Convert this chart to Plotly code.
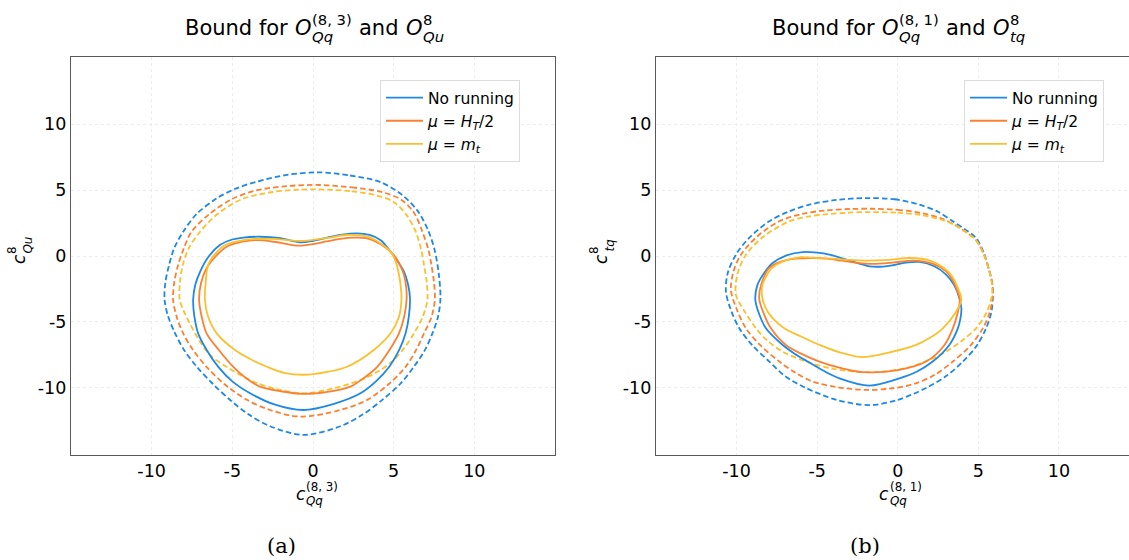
import plotly.graph_objects as go

W, H = 1129, 560

# ---------------- data (x, y) points along each closed contour ----------------
# Panel (a): c_Qq^(8,3) vs c_Qu^8
a_norun_dash = [(0.3, 6.34), (2.3, 6.1), (4.18, 5.6), (5.5, 4.65), (6.5, 3.4), (7.15, 1.9), (7.55, 0.4),
                (7.8, -1.4), (7.9, -3.2), (7.75, -4.6), (7.4, -5.86), (6.95, -7.1), (6.25, -8.4),
                (5.4, -9.7), (4.3, -10.9), (3.1, -12.0), (1.7, -12.9), (-0.6, -13.56), (-2.66, -12.9),
                (-4.0, -12.0), (-5.1, -10.95), (-6.2, -9.7), (-7.2, -8.4), (-8.0, -7.1), (-8.57, -5.8),
                (-9.0, -4.5), (-9.2, -3.3), (-9.15, -2.0), (-8.92, -0.68), (-8.6, 0.6), (-8.05, 1.84),
                (-7.2, 3.2), (-5.97, 4.37), (-4.8, 5.1), (-3.5, 5.63), (-1.6, 6.15)]
a_ht_dash = [(0.45, 5.38), (2.4, 5.2), (4.18, 4.87), (5.43, 4.3), (6.25, 3.3), (6.78, 1.84), (7.15, 0.5),
             (7.34, -0.68), (7.5, -2.0), (7.55, -3.33), (7.35, -4.6), (6.88, -5.86), (6.4, -7.1),
             (5.74, -8.4), (4.7, -9.7), (3.36, -10.9), (1.7, -11.67), (-0.8, -12.17), (-2.66, -11.67),
             (-4.1, -10.9), (-5.5, -9.7), (-6.6, -8.4), (-7.45, -7.1), (-8.05, -5.86), (-8.45, -4.6),
             (-8.67, -3.33), (-8.6, -2.0), (-8.36, -0.68), (-8.0, 0.6), (-7.53, 1.84), (-6.4, 3.2),
             (-5.04, 4.3), (-3.6, 4.95), (-1.6, 5.3)]
a_mt_dash = [(0.3, 5.05), (2.4, 4.9), (3.9, 4.6), (5.0, 4.1), (5.8, 3.1), (6.37, 1.84), (6.7, 0.5),
             (6.88, -0.68), (7.05, -2.0), (7.09, -3.33), (6.8, -4.6), (6.26, -5.86), (5.7, -6.9),
             (5.0, -7.88), (4.1, -8.7), (2.94, -9.4), (1.2, -10.05), (-0.58, -10.4), (-2.2, -10.1),
             (-3.7, -9.52), (-5.37, -8.39), (-6.3, -7.6), (-6.95, -6.6), (-7.64, -5.1), (-8.0, -4.2),
             (-8.26, -3.33), (-8.25, -2.0), (-8.07, -0.68), (-7.7, 0.6), (-7.0, 1.84), (-5.9, 3.2),
             (-4.42, 4.3), (-2.5, 4.85), (-1.0, 5.02)]
a_norun = [(-0.8, 1.04), (0.0, 1.15), (0.9, 1.4), (1.8, 1.62), (2.73, 1.72), (3.5, 1.6), (4.2, 1.2),
           (4.81, 0.33), (5.3, -0.5), (5.64, -1.19), (5.9, -2.2), (6.01, -3.2), (5.95, -4.5),
           (5.74, -5.86), (5.35, -7.1), (4.75, -8.35), (3.9, -9.5), (2.94, -10.4), (1.3, -11.2),
           (-0.6, -11.67), (-2.4, -11.25), (-3.9, -10.4), (-5.0, -9.5), (-5.87, -8.4), (-6.6, -7.1),
           (-7.12, -5.86), (-7.35, -4.6), (-7.43, -3.33), (-7.3, -2.2), (-7.0, -1.2), (-6.5, -0.1),
           (-5.77, 0.83), (-5.0, 1.25), (-4.32, 1.4), (-3.28, 1.46), (-2.03, 1.35)]
a_ht = [(-0.9, 0.78), (0.0, 0.9), (0.8, 1.1), (1.7, 1.3), (2.53, 1.39), (3.3, 1.35), (4.2, 0.9),
        (5.0, 0.08), (5.4, -0.7), (5.64, -1.44), (5.78, -2.4), (5.8, -3.33), (5.65, -4.6),
        (5.33, -5.86), (4.75, -7.1), (3.98, -8.4), (3.2, -9.2), (2.32, -9.9), (0.9, -10.3),
        (-0.58, -10.45), (-2.0, -10.25), (-3.28, -9.9), (-4.2, -9.2), (-4.94, -8.4), (-5.85, -7.1),
        (-6.6, -5.86), (-6.9, -4.6), (-7.06, -3.33), (-6.95, -2.1), (-6.6, -0.93), (-6.05, -0.05),
        (-5.35, 0.7), (-4.3, 1.1), (-3.28, 1.21), (-2.0, 1.0)]
a_mt = [(-0.8, 1.14), (0.0, 1.22), (0.8, 1.35), (2.1, 1.59), (3.36, 1.46), (4.2, 0.95), (4.81, 0.33),
        (5.15, -0.5), (5.33, -1.44), (5.45, -2.4), (5.48, -3.33), (5.33, -4.6), (4.81, -5.86),
        (3.77, -7.12), (2.11, -8.39), (0.8, -8.8), (-0.58, -9.0), (-1.8, -8.85), (-2.86, -8.39),
        (-3.9, -7.8), (-4.84, -7.12), (-5.97, -5.86), (-6.5, -4.6), (-6.7, -3.33), (-6.65, -2.0),
        (-6.5, -0.68), (-6.1, 0.1), (-5.5, 0.8), (-4.3, 1.21), (-2.5, 1.3), (-1.6, 1.2)]

# Panel (b): c_Qq^(8,1) vs c_tq^8
b_norun_dash = [(-1.97, 4.39), (-0.2, 4.3), (1.35, 3.89), (2.5, 3.35), (3.42, 2.63), (4.2, 2.0),
                (4.86, 1.36), (5.35, 0.2), (5.69, -1.16), (5.88, -2.2), (5.9, -3.18), (5.8, -4.3),
                (5.48, -5.48), (4.9, -6.8), (4.04, -8.0), (3.0, -9.1), (1.76, -10.0), (0.0, -10.9),
                (-1.76, -11.3), (-3.8, -10.9), (-5.7, -10.0), (-7.0, -9.1), (-7.97, -8.0), (-9.0, -6.8),
                (-9.83, -5.48), (-10.35, -4.1), (-10.66, -2.7), (-10.55, -1.3), (-10.04, 0.1),
                (-9.2, 1.4), (-7.97, 2.63), (-6.8, 3.35), (-5.49, 3.89), (-3.8, 4.25)]
b_ht_dash = [(-1.55, 3.58), (0.0, 3.5), (1.5, 3.25), (2.7, 2.85), (3.62, 2.3), (4.3, 1.75), (4.86, 1.2),
             (5.35, 0.1), (5.69, -1.16), (5.88, -2.2), (5.9, -3.0), (5.7, -4.3), (5.28, -5.48),
             (4.5, -6.8), (3.42, -8.0), (2.3, -9.0), (1.0, -9.7), (-0.5, -10.05), (-1.97, -10.15),
             (-3.7, -9.95), (-5.28, -9.52), (-6.4, -8.8), (-7.35, -8.0), (-8.5, -6.8), (-9.42, -5.48),
             (-10.0, -4.0), (-10.35, -2.6), (-10.2, -1.2), (-9.73, 0.1), (-8.7, 1.5), (-7.35, 2.63),
             (-5.9, 3.2), (-4.5, 3.45), (-3.0, 3.56)]
b_mt_dash = [(-1.8, 3.33), (0.0, 3.28), (1.5, 3.1), (2.7, 2.75), (3.62, 2.3), (4.3, 1.75), (4.86, 1.2),
             (5.35, 0.1), (5.69, -1.16), (5.85, -2.2), (5.85, -2.95), (5.5, -4.3), (4.86, -5.48),
             (4.0, -6.4), (3.0, -7.25), (1.8, -7.95), (0.5, -8.5), (-0.9, -8.75), (-2.17, -8.8),
             (-4.0, -8.55), (-5.7, -8.0), (-7.14, -7.25), (-8.1, -6.4), (-8.8, -5.48), (-9.5, -4.2),
             (-10.04, -2.95), (-9.95, -1.4), (-9.42, 0.1), (-8.3, 1.5), (-6.73, 2.63), (-5.5, 3.0),
             (-4.5, 3.15), (-3.1, 3.28)]
b_norun = [(-5.9, 0.3), (-5.0, 0.25), (-4.24, 0.1), (-3.0, -0.35), (-1.76, -0.78), (-0.9, -0.8),
           (-0.3, -0.7), (0.5, -0.5), (1.35, -0.45), (2.3, -0.8), (3.0, -1.41), (3.5, -2.2),
           (3.8, -3.1), (3.95, -4.0), (3.88, -4.8), (3.73, -5.48), (3.2, -6.74), (2.17, -8.0),
           (1.2, -8.75), (0.1, -9.27), (-1.76, -9.82), (-3.62, -9.27), (-4.6, -8.7), (-5.59, -8.0),
           (-6.4, -7.4), (-7.14, -6.74), (-8.18, -5.48), (-8.6, -4.4), (-8.84, -3.3), (-8.7, -2.17),
           (-8.3, -1.3), (-7.76, -0.53), (-6.9, 0.05)]
b_ht = [(-6.32, -0.2), (-5.28, -0.15), (-4.4, -0.2), (-3.5, -0.35), (-2.5, -0.52), (-1.55, -0.6),
        (-0.3, -0.5), (0.93, -0.35), (2.2, -0.6), (3.0, -1.16), (3.4, -1.8), (3.65, -2.5),
        (3.85, -3.3), (3.7, -4.4), (3.42, -5.48), (2.9, -6.74), (1.76, -8.0), (0.0, -8.65),
        (-2.17, -8.8), (-3.5, -8.5), (-4.86, -8.0), (-6.0, -7.4), (-6.94, -6.74), (-7.87, -5.48),
        (-8.3, -4.4), (-8.6, -3.2), (-8.4, -1.9), (-7.97, -0.9), (-7.2, -0.4)]
b_mt = [(-6.1, -0.1), (-5.0, -0.15), (-4.0, -0.2), (-3.0, -0.3), (-1.97, -0.35), (-0.6, -0.3),
        (0.73, -0.15), (2.0, -0.35), (3.0, -1.04), (3.4, -1.6), (3.73, -2.42), (3.95, -3.3),
        (3.62, -4.22), (2.8, -5.48), (2.0, -6.2), (1.14, -6.74), (-0.5, -7.3), (-2.17, -7.67),
        (-3.6, -7.3), (-4.86, -6.74), (-6.0, -6.1), (-7.04, -5.48), (-8.07, -4.22), (-8.43, -2.95),
        (-8.39, -2.17), (-8.1, -1.4), (-7.8, -0.9), (-7.0, -0.35)]

tick_vals = [-10, -5, 0, 5, 10]
tick_text = ["-10", "-5", "0", "5", "10"]
series_names = ["No running", "<i>μ</i> = <i>H</i><sub><i>T</i></sub>/2", "<i>μ</i> = <i>m</i><sub><i>t</i></sub>"]
colors = ["#1E88E5", "#FB8132", "#FBC02D"]
captions = ["(a)", "(b)"]
title_sups = ["(8, 3)", "(8, 1)"]
title_subs = ["<i>Qq</i>", "<i>Qq</i>"]
title_subs2 = ["<i>Qu</i>", "<i>tq</i>"]
ylabel_subs = ["<i>Qu</i>", "<i>tq</i>"]

# ---------------- figure ----------------
fig = go.Figure()
FONT = "DejaVu Sans"


def closed(pts):
    xs = [p[0] for p in pts] + [pts[0][0]]
    ys = [p[1] for p in pts] + [pts[0][1]]
    return xs, ys


panels = [
    ("x", "y", "legend", [a_norun, a_ht, a_mt], [a_norun_dash, a_ht_dash, a_mt_dash]),
    ("x2", "y2", "legend2", [b_norun, b_ht, b_mt], [b_norun_dash, b_ht_dash, b_mt_dash]),
]
for xa, ya, leg, solids, dashes in panels:
    for i in range(3):
        xs, ys = closed(dashes[i])
        fig.add_trace(go.Scatter(x=xs, y=ys, mode="lines", xaxis=xa, yaxis=ya, showlegend=False,
                                 line=dict(color=colors[i], width=1.8, dash="5.5px,3px", shape="spline", smoothing=0.9),
                                 hoverinfo="skip"))
    for i in range(3):
        xs, ys = closed(solids[i])
        fig.add_trace(go.Scatter(x=xs, y=ys, mode="lines", xaxis=xa, yaxis=ya, name=series_names[i],
                                 legend=leg, showlegend=True,
                                 line=dict(color=colors[i], width=1.8, shape="spline", smoothing=0.9),
                                 hoverinfo="skip"))

ydom = [(H - 455) / H, (H - 57) / H]
axis_common = dict(showgrid=True, gridcolor="#ececec", griddash="dot", gridwidth=1, zeroline=False,
                   tickmode="array", tickvals=tick_vals, ticktext=tick_text, ticks="",
                   tickfont=dict(family=FONT, size=17.5, color="black"), showline=True,
                   linecolor="#5a5a5a", linewidth=1.2)

leg_common = dict(xanchor="left", yanchor="top", bgcolor="white", bordercolor="#dcdcdc", borderwidth=1,
                  font=dict(family=FONT, size=15.5), tracegroupgap=0, itemwidth=37)
fig.update_layout(
    width=W, height=H, margin=dict(l=0, r=0, t=0, b=0),
    paper_bgcolor="white", plot_bgcolor="white",
    font=dict(family=FONT, color="black"),
    xaxis=dict(domain=[71 / W, 555 / W], range=[-15, 15], anchor="y", mirror=True, **axis_common),
    yaxis=dict(domain=ydom, range=[-15.08, 15.08], anchor="x", mirror=True, **axis_common),
    xaxis2=dict(domain=[656 / W, 1.0], range=[-15, 14.35], anchor="y2", mirror=True, **axis_common),
    yaxis2=dict(domain=ydom, range=[-15.08, 15.08], anchor="x2", mirror=False, **axis_common),
    legend=dict(x=380 / W, y=1 - 80 / H, **leg_common),
    legend2=dict(x=964 / W, y=1 - 80 / H, **leg_common),
)


def txt(text, xp, yp, size, xanchor="left", angle=0, family=FONT):
    fig.add_annotation(text=text, x=xp / W, y=1 - yp / H, xref="paper", yref="paper", showarrow=False,
                       font=dict(family=family, size=size, color="black"), xanchor=xanchor,
                       yanchor="middle", textangle=angle, borderpad=0)


title_x0 = [183.6, 771.0]
xlab_c = [294.5, 878.0]
ylab_x = [19.0, 601.0]
for k in range(2):
    S = title_x0[k]
    ty = 28
    txt("Bound for", S, ty, 21)
    txt("<i>O</i>", S + 110.4, ty, 21)
    txt(title_sups[k], S + 127.4, ty - 8, 14.8)
    txt(title_subs[k], S + 127.4, ty + 9, 14.8)
    txt("and", S + 174.4, ty, 21)
    txt("<i>O</i>", S + 221.1, ty, 21)
    txt("8", S + 238.2, ty - 8, 14.8)
    txt(title_subs2[k], S + 238.2, ty + 9, 14.8)
    # x label
    c0 = xlab_c[k]
    txt("<i>c</i>", c0, 494, 17)
    txt(title_sups[k], c0 + 11, 487, 11.9)
    txt("<i>Qq</i>", c0 + 11, 501, 11.9)
    # y label (rotated)
    yx = ylab_x[k]
    txt("<i>c</i>", yx, 259, 17, xanchor="center", angle=-90)
    txt("8", yx - 7, 250, 11.9, xanchor="center", angle=-90)
    txt(ylabel_subs[k], yx + 8, 245.5, 11.9, xanchor="center", angle=-90)

txt(captions[0], 281, 546, 21, xanchor="center", family="DejaVu Serif")
txt(captions[1], 865, 546, 21, xanchor="center", family="DejaVu Serif")

fig.write_html("out.html")
